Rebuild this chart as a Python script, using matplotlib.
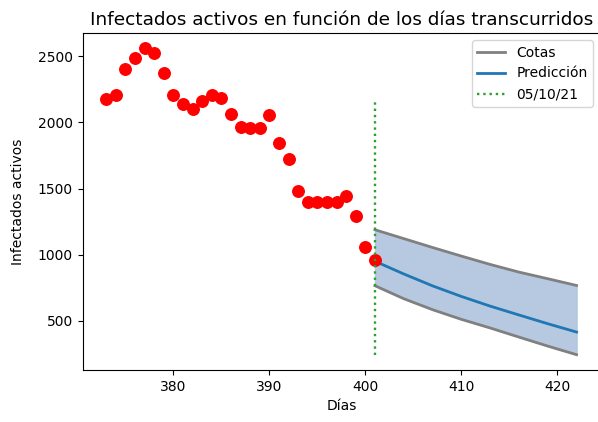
"""
Infectados activos: observed points, exponential-like prediction with bounds.
"""

import numpy as np
import matplotlib
matplotlib.use("Agg")
import matplotlib.pyplot as plt

# observed active cases, days 373..401
days = np.arange(373, 402)
active = [2180, 2205, 2405, 2488, 2560, 2523, 2372, 2208, 2137, 2100,
          2160, 2211, 2183, 2065, 1969, 1961, 1961, 2054, 1843, 1727,
          1480, 1395, 1395, 1395, 1395, 1446, 1295, 1057, 957]

# prediction and bounds, read every 3 days
pred_days = [401, 404, 407, 410, 413, 416, 419, 422]
pred = [951, 855, 765, 685, 612, 545, 479, 416]
upper = [1189, 1122, 1055, 990, 927, 869, 819, 768]
lower = [766, 668, 585, 512, 447, 378, 310, 245]

date_day = 401
date_label = "05/10/21"
date_line_top = 2170

fig = plt.figure(figsize=(5.98, 4.22), dpi=100)
ax = fig.add_axes([0.1383, 0.1232, 0.8652, 0.7986])

ax.fill_between(pred_days, lower, upper, color="lightsteelblue", alpha=0.9)
ax.plot(pred_days, upper, color="gray", linewidth=2, label="Cotas")
ax.plot(pred_days, lower, color="gray", linewidth=2)
ax.plot(pred_days, pred, color="C0", linewidth=2, label="Predicción")
ax.plot(days, active, "o", color="red", markersize=8.3)
ax.vlines(date_day, min(lower), date_line_top, colors="C2",
          linestyles=":", linewidth=1.7, label=date_label)

ax.set_xlabel("Días")
ax.set_ylabel("Infectados activos", labelpad=9)
ax.set_title("Infectados activos en función de los días transcurridos",
             fontsize=13.3)
ax.legend(loc="upper right")

fig.savefig("out.png", dpi=100)
